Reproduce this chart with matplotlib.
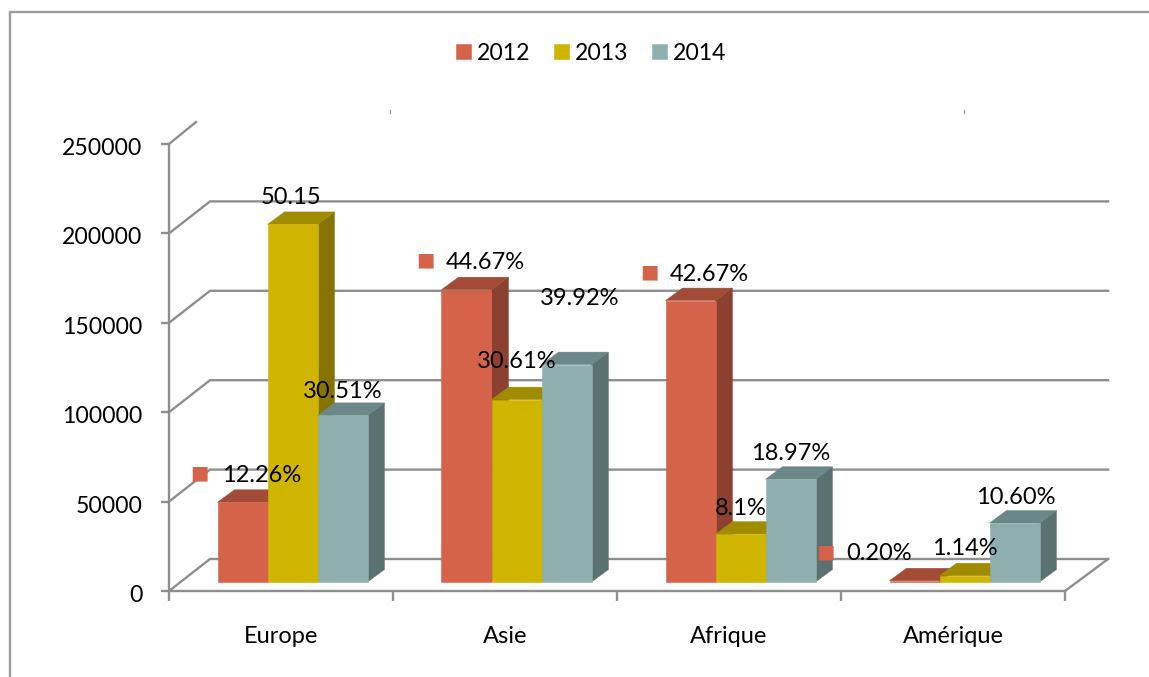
import matplotlib
matplotlib.use("Agg")
import matplotlib.pyplot as plt
from matplotlib.patches import Polygon
from matplotlib.lines import Line2D
from matplotlib.transforms import ScaledTranslation

plt.rcParams['font.family'] = ['Lato', 'DejaVu Sans']

categories = ["Europe", "Asie", "Afrique", "Amérique"]
years = ["2012", "2013", "2014"]
v2012 = [44600, 163500, 157400, 700]
v2013 = [200000, 102000, 26800, 3500]
v2014 = [93200, 121600, 57500, 33000]
l2012 = ["12.26%", "44.67%", "42.67%", "0.20%"]
l2013 = ["50.15", "30.61%", "8.1%", "1.14%"]
l2014 = ["30.51%", "39.92%", "18.97%", "10.60%"]
yticks = [0, 50000, 100000, 150000, 200000, 250000]

# label centre offsets from the top-centre of each bar front, in pixels
off2012 = [(19, 27), (19, 27), (19, 26), (-35, 27)]
off2013 = [(-1, 27), (0, 38), (0, 26), (0, 27)]
off2014 = [(0, 24), (13, 66), (0, 26), (1, 25)]
mark_off = [(-43, 29), (-41, 30), (-41, 29), (-89, 29)]

front = ["#D4634A", "#CFB500", "#8FAFAF"]
top = ["#A24C37", "#A08C00", "#6C8787"]
side = ["#8B4030", "#857500", "#5B7070"]
axis_grey = "#8E8E8E"
frame_grey = "#9C9C9C"

W, H = 1149, 677
fig = plt.figure(figsize=(W / 100, H / 100), dpi=100)
L, R, T, B = 169, 1065, 144, 591
ax = fig.add_axes([L / W, 1 - B / H, (R - L) / W, (B - T) / H])
ax.set_xlim(0, 4)
ax.set_ylim(0, 250000)

ppx = 4 / (R - L)
ppy = 250000 / (B - T)
wall_dx, wall_dy = 41 * ppx, 32 * ppy
bar_dx, bar_dy = 17 * ppx, 12.5 * ppy
floor = 9 * ppy
bw = 50 * ppx
start = (292.5 - L) * ppx

# walls
for y in yticks[:-1]:
    ax.plot([0, wall_dx, 4 + wall_dx * 1.05], [y, y + wall_dy, y + wall_dy],
            color=axis_grey, lw=1.7, zorder=1, clip_on=False, solid_joinstyle="miter")
ax.plot([0, wall_dx * 27 / 41], [250000, 250000 + wall_dy * 22 / 32],
        color=axis_grey, lw=1.7, zorder=1, clip_on=False)
ax.plot([4, 4 + wall_dx * 1.05], [0, wall_dy], color=axis_grey, lw=1.7, zorder=1, clip_on=False)
for sx in (221, 795):
    ax.plot([sx * ppx] * 2, [250000 + 31 * ppy, 250000 + 34 * ppy],
            color=axis_grey, lw=0.8, zorder=1, clip_on=False)

# bars
series = [v2012, v2013, v2014]
labels = [l2012, l2013, l2014]
offsets = [off2012, off2013, off2014]
z = 3
for c in range(len(categories)):
    for s in range(3):
        x0 = c + start + (s - 1.5) * bw
        v = series[s][c]
        ys = floor + v
        ax.add_patch(Polygon([(x0 + bw, floor), (x0 + bw + bar_dx, floor + bar_dy),
                              (x0 + bw + bar_dx, ys + bar_dy), (x0 + bw, ys)],
                             fc=side[s], ec=side[s], lw=0.3, zorder=z))
        ax.add_patch(Polygon([(x0, ys), (x0 + bar_dx, ys + bar_dy),
                              (x0 + bw + bar_dx, ys + bar_dy), (x0 + bw, ys)],
                             fc=top[s], ec=top[s], lw=0.3, zorder=z))
        ax.bar(x0, v, bw, bottom=floor, align="edge", color=front[s], ec=front[s], lw=0.4,
               zorder=z + 1, label=years[s] if c == 0 else None)
        z += 2

# data labels
for s in range(3):
    for c in range(4):
        x0 = c + start + (s - 1.0) * bw
        ox, oy = offsets[s][c]
        ax.annotate(labels[s][c], (x0, floor + series[s][c]), xytext=(ox, oy),
                    textcoords="offset pixels", ha="center", va="center",
                    fontsize=17, color="black", zorder=100, annotation_clip=False)

# 2012 label markers
for c in range(4):
    x0 = c + start - bw
    ax.annotate("■", (x0, floor + v2012[c]), xytext=mark_off[c], textcoords="offset pixels",
                ha="center", va="center", color=front[0], fontsize=14,
                family=["DejaVu Sans"], zorder=100, annotation_clip=False)

# axes
for k in ("top", "right"):
    ax.spines[k].set_visible(False)
for k in ("left", "bottom"):
    ax.spines[k].set_color(axis_grey)
    ax.spines[k].set_linewidth(1.7)
ax.patch.set_alpha(0)
ax.set_yticks(yticks)
ax.set_yticklabels([str(y) for y in yticks], fontsize=16.6)
ax.tick_params(axis="y", length=6, width=1.7, color=axis_grey, pad=13)
shift = ScaledTranslation(0, -2.5 / 100, fig.dpi_scale_trans)
for t in ax.get_yticklabels():
    t.set_transform(t.get_transform() + shift)
ax.set_xticks([0, 1, 2, 3, 4])
ax.set_xticklabels([])
ax.set_xticks([0.5, 1.5, 2.5, 3.5], minor=True)
ax.set_xticklabels(categories, minor=True, fontsize=17)
ax.tick_params(axis="x", which="major", length=7, width=1.7, color=axis_grey)
ax.tick_params(axis="x", which="minor", length=0, pad=25.5)

ax.legend(loc="center", bbox_to_anchor=((591 - L) / (R - L), (B - 53) / (B - T)),
          ncol=3, frameon=False, fontsize=16.6, handlelength=0.66, handleheight=0.66,
          handletextpad=0.25, columnspacing=1.02, borderpad=0, borderaxespad=0)

# chart frame
fig.add_artist(Line2D([10 / W, 10 / W, 1], [0, 1 - 12 / H, 1 - 12 / H],
                      color=frame_grey, lw=1.7, solid_joinstyle="miter"))

fig.savefig("out.png", dpi=100)
